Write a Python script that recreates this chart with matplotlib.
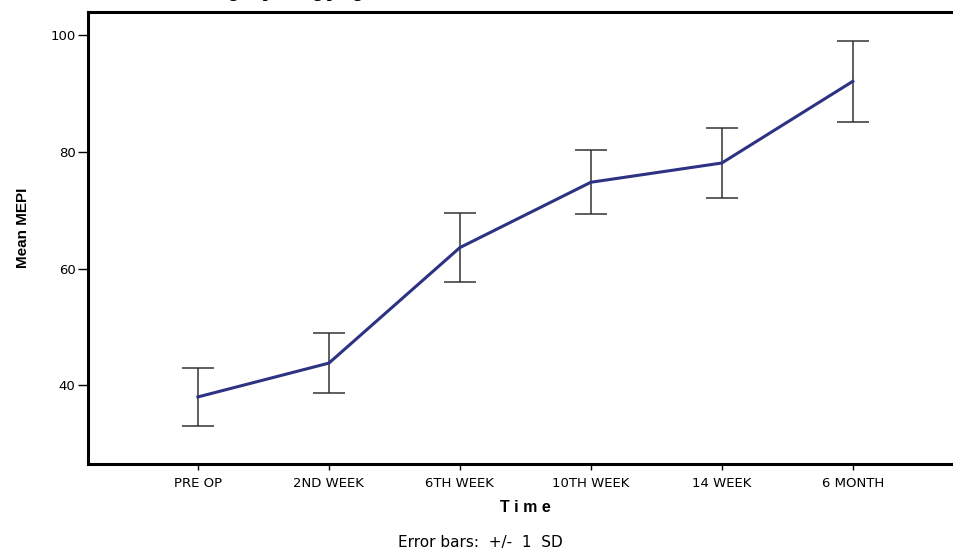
import matplotlib.pyplot as plt
import numpy as np

plt.rcParams['font.family'] = ['DejaVu Sans']

TIMES = ['PRE OP', '2ND WEEK', '6TH WEEK', '10TH WEEK', '14 WEEK', '6 MONTH']
MEAN_MEPI = [38.0, 43.8, 63.6, 74.8, 78.1, 92.1]
SD_MEPI = [5.0, 5.1, 5.85, 5.5, 5.95, 6.95]
Y_TICKS = [40, 60, 80, 100]

fig = plt.figure(figsize=(9.54, 5.52), dpi=100)
ax = fig.add_axes([0.0922, 0.1594, 0.917, 0.819])

x = np.arange(len(TIMES))
ax.errorbar(x, MEAN_MEPI, yerr=SD_MEPI, fmt='none', ecolor='#333333',
            elinewidth=1.1, capsize=11.5, capthick=1.1, zorder=2)
ax.plot(x, MEAN_MEPI, color='#2e3282', linewidth=2.2, zorder=3)

ax.set_xlim(-0.84, 5.84)
ax.set_ylim(26.5, 104)
ax.set_xticks(x)
ax.set_xticklabels(TIMES, fontsize=9.5)
ax.set_yticks(Y_TICKS)
ax.set_yticklabels([str(v) for v in Y_TICKS], fontsize=9.5)
ax.tick_params(axis='y', direction='out', length=7, width=1, pad=2)
ax.tick_params(axis='x', direction='out', length=4, width=1, pad=5)
for s in ax.spines.values():
    s.set_linewidth(2.2)
    s.set_color('black')

fig.text(0.024, 0.587, 'Mean MEPI', fontsize=11, fontweight='bold',
         rotation=90, ha='center', va='center',
         family=['Liberation Sans', 'DejaVu Sans'])
fig.text(0.551, 0.08, 'T i m e', fontsize=11.5, fontweight='bold',
         ha='center', va='center', family=['Liberation Sans', 'DejaVu Sans'])
fig.text(0.504, 0.018, 'Error bars:  +/-  1  SD', fontsize=11,
         ha='center', va='center')

# caption of the page, cropped off above the chart
fig.text(0.183, 1.006, 'showing improving progress',
         fontsize=13, fontweight='bold', family=['Liberation Serif', 'DejaVu Serif'],
         ha='left', va='baseline')

fig.savefig('out.png', dpi=100, facecolor='white')
